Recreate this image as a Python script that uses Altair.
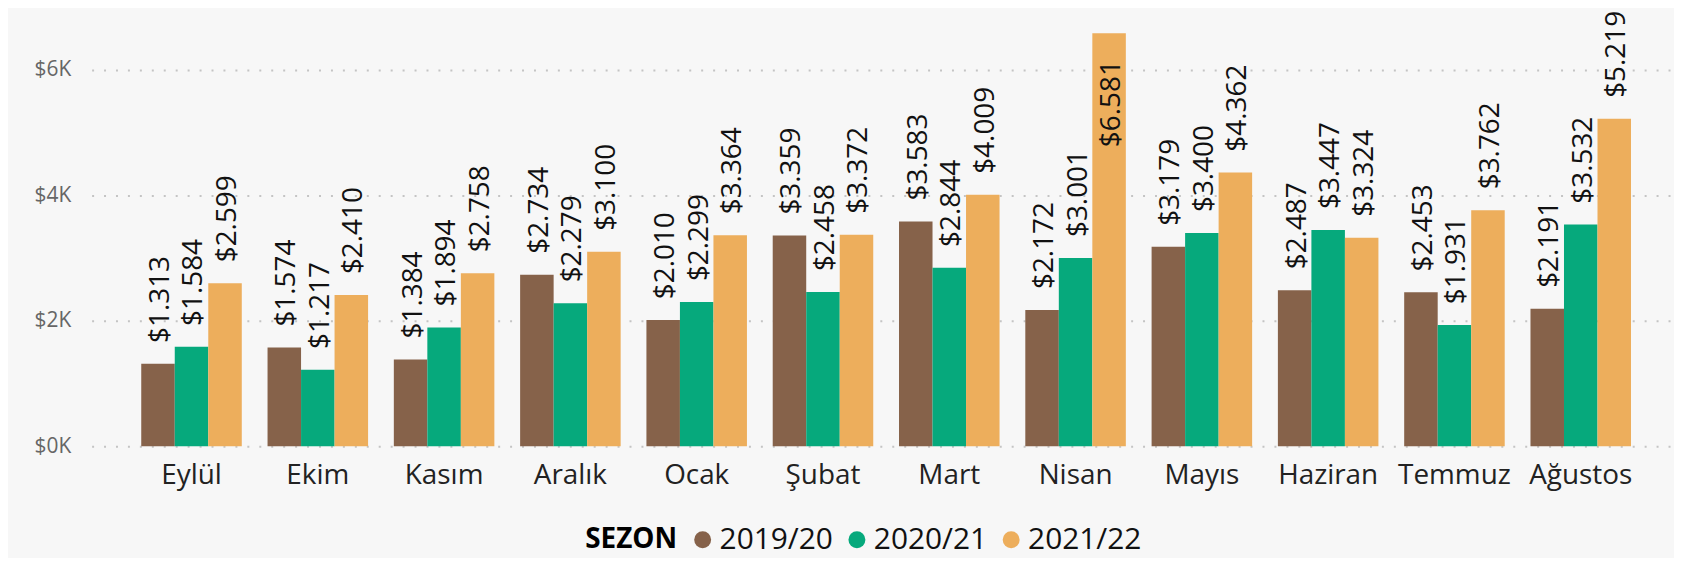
import altair as alt
import pandas as pd

months = ["Eylül", "Ekim", "Kasım", "Aralık", "Ocak", "Şubat", "Mart",
          "Nisan", "Mayıs", "Haziran", "Temmuz", "Ağustos"]
seasons = ["2019/20", "2020/21", "2021/22"]
s1920 = [1313, 1574, 1384, 2734, 2010, 3359, 3583, 2172, 3179, 2487, 2453, 2191]
s2021 = [1584, 1217, 1894, 2279, 2299, 2458, 2844, 3001, 3400, 3447, 1931, 3532]
s2122 = [2599, 2410, 2758, 3100, 3364, 3372, 4009, 6581, 4362, 3324, 3762, 5219]
colors = ["#86624A", "#06A97C", "#EDAE5C"]

rows = []
for s, vals in zip(seasons, [s1920, s2021, s2122]):
    for m, v in zip(months, vals):
        rows.append({"Ay": m, "SEZON": s, "v": v})
df = pd.DataFrame(rows)

FONT = "Open Sans"

x = alt.X("Ay:N", sort=months, title=None,
          scale=alt.Scale(paddingInner=0.204, paddingOuter=0.351, align=0.56),
          axis=alt.Axis(labelAngle=0, labelFontSize=28, labelColor="#222222",
                        labelFont=FONT, ticks=False, tickSize=0, domain=False,
                        labelPadding=15, grid=False))
xo = alt.XOffset("SEZON:N", sort=seasons, scale=alt.Scale(paddingInner=0, paddingOuter=0))
y = alt.Y("v:Q", title=None,
          scale=alt.Scale(domain=[0, 6900], nice=False),
          axis=alt.Axis(values=[0, 2000, 4000, 6000],
                        labelExpr="'$' + datum.value/1000 + 'K'",
                        labelFontSize=21, labelColor="#666666", labelFont=FONT,
                        ticks=False, tickSize=0, domain=False, labelPadding=21,
                        grid=True, gridColor="#C4C4C4", gridDash=[2, 10],
                        gridWidth=2))
color = alt.Color("SEZON:N", sort=seasons,
                  scale=alt.Scale(domain=seasons, range=colors),
                  legend=alt.Legend(orient="none", legendX=496, legendY=514,
                                    direction="horizontal", title="SEZON",
                                    titleOrient="left", titleFontSize=28,
                                    titleFontWeight="bold", titleColor="#000000",
                                    titleFont=FONT, titlePadding=10,
                                    titleBaseline="middle",
                                    labelFontSize=30, labelColor="#111111",
                                    labelFont=FONT, labelOffset=2,
                                    symbolType="circle", symbolSize=290,
                                    symbolStrokeWidth=0, columnPadding=9))

base = alt.Chart(df).transform_calculate(
    lab="'$' + replace(format(datum.v, ','), ',', '.')"
)

bars = base.mark_bar().encode(x=x, xOffset=xo, y=y, color=color)

above = base.transform_filter("datum.v < 6300").mark_text(
    angle=270, align="left", baseline="middle", dx=21, dy=3,
    fontSize=28, font=FONT, color="#111111"
).encode(x=x, xOffset=xo, y=y, text="lab:N")

inside = base.transform_filter("datum.v >= 6300").mark_text(
    angle=270, align="right", baseline="middle", dx=-27, dy=3,
    fontSize=28, font=FONT, color="#111111"
).encode(x=x, xOffset=xo, y=y, text="lab:N")

chart = alt.layer(bars, above, inside).properties(
    width=1586, height=435,
    autosize=alt.AutoSizeParams(type="none"),
    padding={"left": 84, "top": 4, "right": 4, "bottom": 111},
    background="#F7F7F7",
).configure_view(stroke=None)

chart.save("out.html", embed_options={"renderer": "svg", "actions": False})
